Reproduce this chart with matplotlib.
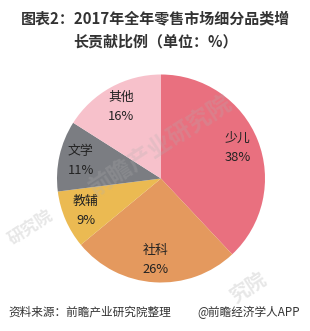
import matplotlib
matplotlib.use('Agg')
import matplotlib.pyplot as plt

plt.rcParams['font.family'] = ['Noto Sans CJK SC', 'DejaVu Sans']

# Données du graphique
categories = ['少儿', '社科', '教辅', '文学', '其他']
valeurs = [38, 26, 9, 11, 16]
couleurs = ['#E9707F', '#E4995E', '#EBBA52', '#7B7D82', '#F7C1CB']

titre = '图表2：2017年全年零售市场细分品类增\n长贡献比例（单位：%）'
source = '资料来源：前瞻产业研究院整理'
marque = '@前瞻经济学人APP'

W, H = 310, 331
fig = plt.figure(figsize=(W / 100, H / 100), dpi=100)
fig.patch.set_facecolor('white')

# Position du camembert (centre et rayon en pixels)
cx, cy, r = 161, H - 178.5, 104
ax = fig.add_axes([(cx - r) / W, (cy - r) / H, 2 * r / W, 2 * r / H])

etiquettes = [f'{c}\n{v}%' for c, v in zip(categories, valeurs)]
wedges, textes = ax.pie(valeurs, colors=couleurs, startangle=90, counterclock=False,
                        labels=etiquettes, labeldistance=0.79,
                        textprops=dict(fontsize=9.3, color='#222222', ha='center',
                                       va='center', linespacing=1.6))
ax.set_xlim(-1, 1)
ax.set_ylim(-1, 1)
ax.set_aspect('equal')
ax.axis('off')

# Filigrane discret
fig.text(0.52, 0.56, '前瞻产业研究院', fontsize=17, color='#B0B0B0', alpha=0.25,
         rotation=33, ha='center', va='center', fontweight='bold')
fig.text(0.10, 0.31, '研究院', fontsize=12, color='#B0B0B0', alpha=0.3,
         rotation=33, ha='center', va='center', fontweight='bold')
fig.text(0.80, 0.13, '究院', fontsize=14, color='#B0B0B0', alpha=0.3,
         rotation=33, ha='center', va='center', fontweight='bold')

fig.text(0.5, 1 - 30 / H, titre, fontsize=10.8, fontweight='bold', color='#333333',
         ha='center', va='center', linespacing=1.5)

fig.text(8 / W, 1 - 312 / H, source, fontsize=8.4, color='#333333',
         ha='left', va='center', style='italic')
fig.text(300 / W, 1 - 312 / H, marque, fontsize=8.4, color='#333333',
         ha='right', va='center')

plt.savefig('out.png', dpi=100)
